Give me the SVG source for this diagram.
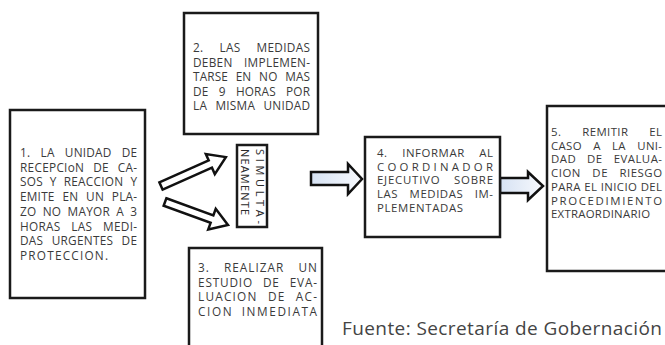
<svg xmlns="http://www.w3.org/2000/svg" width="665" height="345" viewBox="0 0 665 345">
<defs>
<linearGradient id="ag" x1="0" y1="0" x2="1" y2="0">
<stop offset="0" stop-color="#d6e2f3"/>
<stop offset="1" stop-color="#f7f9fd"/>
</linearGradient>
<style>
.box{fill:#fff;stroke:#1a1a1a;stroke-width:2.5}
.t{font-family:"Open Sans","DejaVu Sans",sans-serif;font-size:11.8px;fill:#3a3a3a}
.u{font-family:"Open Sans","DejaVu Sans",sans-serif;font-size:11.4px;fill:#3a3a3a}
.s{font-family:"Open Sans","DejaVu Sans",sans-serif;font-size:11px;fill:#2a2a2a}
.arw{fill:#fff;stroke:#111;stroke-width:2.5;stroke-linejoin:miter}
.barw{fill:url(#ag);stroke:#111;stroke-width:2.5;stroke-linejoin:miter}
.foot{font-family:"Open Sans","DejaVu Sans",sans-serif;font-size:19px;fill:#444}
</style>
</defs>
<rect width="665" height="345" fill="#fff"/>
<g id="connectors">
<path class="arw" transform="translate(161,186) rotate(-24)" d="M0,-4 L54,-4 L54,-11 L71,0 L54,11 L54,4 L0,4 Z"/>
<path class="arw" transform="translate(165,202) rotate(20)" d="M0,-4 L50,-4 L50,-11 L67,0 L50,11 L50,4 L0,4 Z"/>
<path class="barw" d="M311,172 H348 V164 L362,179 L348,194 V185 H311 Z"/>
<path class="barw" d="M500,178 H528 V172 L543,186 L528,200 V193 H500 Z"/>
</g>
<g id="node1">
<rect class="box" x="10" y="110" width="135" height="188"/>
<text class="t" x="20" y="157" textLength="117" lengthAdjust="spacing" word-spacing="7">1. LA UNIDAD DE</text>
<text class="t" x="20" y="171.7" textLength="117" lengthAdjust="spacing" word-spacing="5.5">RECEPCIoN DE CA-</text>
<text class="t" x="20" y="186.4" textLength="117" lengthAdjust="spacing" word-spacing="3.5">SOS Y REACCION Y</text>
<text class="t" x="20" y="201.1" textLength="117" lengthAdjust="spacing" word-spacing="4.5">EMITE EN UN PLA-</text>
<text class="t" x="20" y="215.8" textLength="117" lengthAdjust="spacing" word-spacing="3">ZO NO MAYOR A 3</text>
<text class="t" x="20" y="230.5" textLength="117" lengthAdjust="spacing" word-spacing="7.5">HORAS LAS MEDI-</text>
<text class="t" x="20" y="245.2" textLength="117" lengthAdjust="spacing" word-spacing="5">DAS URGENTES DE</text>
<text class="t" x="20" y="259.9" textLength="88" lengthAdjust="spacing">PROTECCION.</text>
</g>
<g id="node2">
<rect class="box" x="184" y="13" width="134" height="121"/>
<text class="t" x="193" y="52" textLength="117" lengthAdjust="spacing" word-spacing="12.5">2. LAS MEDIDAS</text>
<text class="t" x="193" y="66.5" textLength="117" lengthAdjust="spacing" word-spacing="8">DEBEN IMPLEMEN-</text>
<text class="t" x="193" y="81" textLength="117" lengthAdjust="spacing" word-spacing="4.5">TARSE EN NO MAS</text>
<text class="t" x="193" y="95.5" textLength="117" lengthAdjust="spacing" word-spacing="7">DE 9 HORAS POR</text>
<text class="t" x="193" y="110" textLength="117" lengthAdjust="spacing" word-spacing="5">LA MISMA UNIDAD</text>
</g>
<g id="node3">
<rect class="box" x="189" y="248" width="133" height="110"/>
<text class="t" x="198" y="272" textLength="119" lengthAdjust="spacing" word-spacing="10">3. REALIZAR UN</text>
<text class="t" x="198" y="286.5" textLength="119" lengthAdjust="spacing" word-spacing="6">ESTUDIO DE EVA-</text>
<text class="t" x="198" y="301" textLength="119" lengthAdjust="spacing" word-spacing="6">LUACION DE AC-</text>
<text class="t" x="198" y="315.5" textLength="119" lengthAdjust="spacing" word-spacing="4">CION INMEDIATA</text>
</g>
<g id="node-simul">
<rect class="box" x="237" y="145" width="30" height="82"/>
<text class="s" transform="translate(256,149) rotate(90)" textLength="75" lengthAdjust="spacing">SIMULTA-</text>
<text class="s" transform="translate(241,149) rotate(90)" textLength="66" lengthAdjust="spacing">NEAMENTE</text>
</g>
<g id="node4">
<rect class="box" x="365" y="137" width="135" height="100"/>
<text class="u" x="377" y="157" textLength="116" lengthAdjust="spacing" word-spacing="11">4. INFORMAR AL</text>
<text class="u" x="377" y="170.7" textLength="116" lengthAdjust="spacing">COORDINADOR</text>
<text class="u" x="377" y="184.4" textLength="116" lengthAdjust="spacing" word-spacing="10">EJECUTIVO SOBRE</text>
<text class="u" x="377" y="198.1" textLength="116" lengthAdjust="spacing" word-spacing="8">LAS MEDIDAS IM-</text>
<text class="u" x="377" y="211.8" textLength="86" lengthAdjust="spacing">PLEMENTADAS</text>
</g>
<g id="node5">
<rect class="box" x="547" y="106" width="130" height="165"/>
<text class="u" x="551" y="136" textLength="111" lengthAdjust="spacing" word-spacing="17.5">5. REMITIR EL</text>
<text class="u" x="551" y="149.7" textLength="111" lengthAdjust="spacing" word-spacing="8">CASO A LA UNI-</text>
<text class="u" x="551" y="163.4" textLength="111" lengthAdjust="spacing" word-spacing="7.5">DAD DE EVALUA-</text>
<text class="u" x="551" y="177.1" textLength="111" lengthAdjust="spacing" word-spacing="8">CION DE RIESGO</text>
<text class="u" x="551" y="190.8" textLength="111" lengthAdjust="spacing">PARA EL INICIO DEL</text>
<text class="u" x="551" y="204.5" textLength="111" lengthAdjust="spacing">PROCEDIMIENTO</text>
<text class="u" x="551" y="218.2" textLength="99" lengthAdjust="spacing">EXTRAORDINARIO</text>
</g>
<text class="foot" x="342" y="335" textLength="320" lengthAdjust="spacing">Fuente: Secretaría de Gobernación</text>
</svg>
